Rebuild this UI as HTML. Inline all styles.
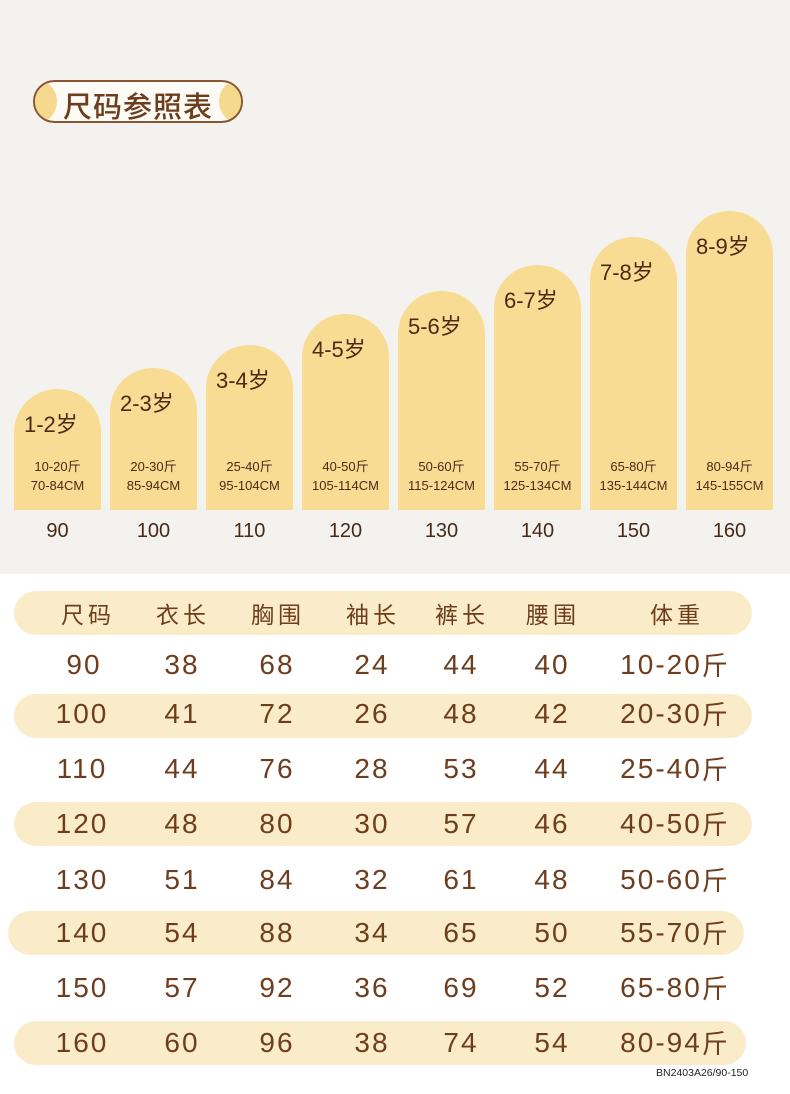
<!DOCTYPE html>
<html><head><meta charset="utf-8"><style>
*{margin:0;padding:0;box-sizing:border-box}
body{width:790px;height:1094px;background:#fff;position:relative;overflow:hidden;font-family:"Liberation Sans","Noto Sans CJK SC",sans-serif;color:#6e3d1e}
.top{position:absolute;left:0;top:0;width:790px;height:574px;background:#f3f2ef}
.title{position:absolute;left:33px;top:80px;width:210px;height:43px;border:2px solid #8a5530;border-radius:22px;background:#fdfbf6;overflow:hidden}
.title .c{position:absolute;top:-2px;width:40px;height:43px;border-radius:50%;background:#f5d98e}
.title span{position:absolute;left:0;width:206px;top:2px;text-align:center;font-size:29px;font-weight:500;color:#6e3d1e;letter-spacing:1px;font-family:"Noto Sans CJK SC",sans-serif}
.bar{position:absolute;width:87px;background:#f8dc94;border-radius:43px 43px 0 0}
.bar .a{position:absolute;left:10px;font-size:22px;color:#4a2a14}
.bar .w{position:absolute;left:0;width:100%;text-align:center;font-size:13px;color:#4a2a14;line-height:19px}
.n{position:absolute;top:520px;width:87px;text-align:center;font-size:20px;color:#4a2a14}
.band{position:absolute;left:14px;width:738px;height:44px;background:#fbecc9;border-radius:22px}
.row{position:absolute;left:0;width:790px;height:40px}
.row span{position:absolute;top:0;height:40px;line-height:40px;transform:translateX(-50%);font-size:28px;letter-spacing:2px;color:#6e3d1e;white-space:nowrap}
.row span i{font-style:normal;font-family:"Noto Sans CJK SC",sans-serif;font-size:26px;display:inline-block;line-height:40px;vertical-align:top}
.hdr span{font-size:23px;letter-spacing:4px;font-family:"Noto Sans CJK SC",sans-serif}
.code{position:absolute;left:656px;top:1067px;font-size:10.5px;color:#222}
</style></head><body>
<div class="top"></div>
<div class="title"><div class="c" style="left:-18px"></div><div class="c" style="right:-18px"></div><span>尺码参照表</span></div>

<div class="bar" style="left:14px;top:389px;height:121px"><div class="a" style="top:18px">1-2岁</div><div class="w" style="top:68px">10-20斤<br>70-84CM</div></div>
<div class="bar" style="left:110px;top:368px;height:142px"><div class="a" style="top:18px">2-3岁</div><div class="w" style="top:89px">20-30斤<br>85-94CM</div></div>
<div class="bar" style="left:206px;top:345px;height:165px"><div class="a" style="top:18px">3-4岁</div><div class="w" style="top:112px">25-40斤<br>95-104CM</div></div>
<div class="bar" style="left:302px;top:314px;height:196px"><div class="a" style="top:18px">4-5岁</div><div class="w" style="top:143px">40-50斤<br>105-114CM</div></div>
<div class="bar" style="left:398px;top:291px;height:219px"><div class="a" style="top:18px">5-6岁</div><div class="w" style="top:166px">50-60斤<br>115-124CM</div></div>
<div class="bar" style="left:494px;top:265px;height:245px"><div class="a" style="top:18px">6-7岁</div><div class="w" style="top:192px">55-70斤<br>125-134CM</div></div>
<div class="bar" style="left:590px;top:237px;height:273px"><div class="a" style="top:18px">7-8岁</div><div class="w" style="top:220px">65-80斤<br>135-144CM</div></div>
<div class="bar" style="left:686px;top:211px;height:299px"><div class="a" style="top:18px">8-9岁</div><div class="w" style="top:246px">80-94斤<br>145-155CM</div></div>

<div class="n" style="left:14px">90</div><div class="n" style="left:110px">100</div><div class="n" style="left:206px">110</div><div class="n" style="left:302px">120</div>
<div class="n" style="left:398px">130</div><div class="n" style="left:494px">140</div><div class="n" style="left:590px">150</div><div class="n" style="left:686px">160</div>

<div class="band" style="top:591px"></div>
<div class="band" style="top:694px"></div>
<div class="band" style="top:802px"></div>
<div class="band" style="top:911px;left:8px;width:736px"></div>
<div class="band" style="top:1021px;width:732px"></div>

<div class="row hdr" style="top:593px"><span style="left:88px">尺码</span><span style="left:183px">衣长</span><span style="left:278px">胸围</span><span style="left:373px">袖长</span><span style="left:462px">裤长</span><span style="left:553px">腰围</span><span style="left:677px">体重</span></div>
<div class="row" style="top:645px"><span style="left:84px">90</span><span style="left:182px">38</span><span style="left:277px">68</span><span style="left:372px">24</span><span style="left:461px">44</span><span style="left:552px">40</span><span style="left:675px">10-20<i>斤</i></span></div>
<div class="row" style="top:694px"><span style="left:82px">100</span><span style="left:182px">41</span><span style="left:277px">72</span><span style="left:372px">26</span><span style="left:461px">48</span><span style="left:552px">42</span><span style="left:675px">20-30<i>斤</i></span></div>
<div class="row" style="top:749px"><span style="left:82px">110</span><span style="left:182px">44</span><span style="left:277px">76</span><span style="left:372px">28</span><span style="left:461px">53</span><span style="left:552px">44</span><span style="left:675px">25-40<i>斤</i></span></div>
<div class="row" style="top:804px"><span style="left:82px">120</span><span style="left:182px">48</span><span style="left:277px">80</span><span style="left:372px">30</span><span style="left:461px">57</span><span style="left:552px">46</span><span style="left:675px">40-50<i>斤</i></span></div>
<div class="row" style="top:860px"><span style="left:82px">130</span><span style="left:182px">51</span><span style="left:277px">84</span><span style="left:372px">32</span><span style="left:461px">61</span><span style="left:552px">48</span><span style="left:675px">50-60<i>斤</i></span></div>
<div class="row" style="top:913px"><span style="left:82px">140</span><span style="left:182px">54</span><span style="left:277px">88</span><span style="left:372px">34</span><span style="left:461px">65</span><span style="left:552px">50</span><span style="left:675px">55-70<i>斤</i></span></div>
<div class="row" style="top:968px"><span style="left:82px">150</span><span style="left:182px">57</span><span style="left:277px">92</span><span style="left:372px">36</span><span style="left:461px">69</span><span style="left:552px">52</span><span style="left:675px">65-80<i>斤</i></span></div>
<div class="row" style="top:1023px"><span style="left:82px">160</span><span style="left:182px">60</span><span style="left:277px">96</span><span style="left:372px">38</span><span style="left:461px">74</span><span style="left:552px">54</span><span style="left:675px">80-94<i>斤</i></span></div>
<div class="code">BN2403A26/90-150</div>
</body></html>
